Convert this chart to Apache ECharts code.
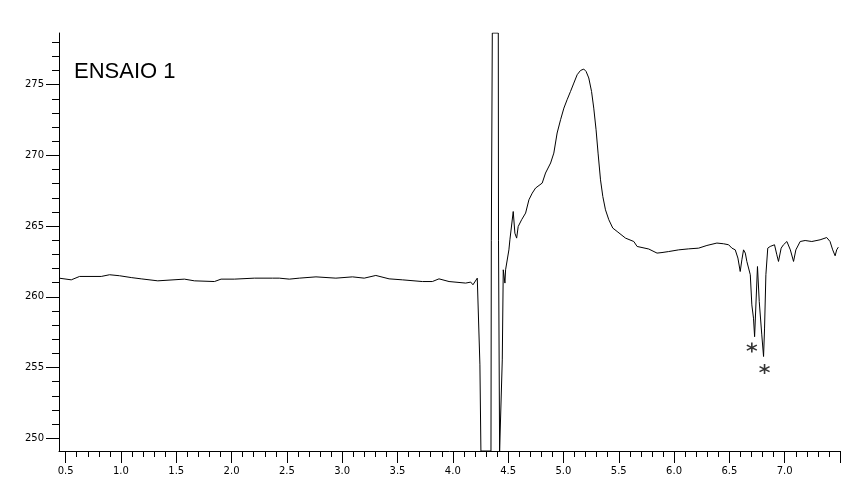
<!DOCTYPE html>
<html>
<head>
<meta charset="utf-8">
<title>ENSAIO 1</title>
<script src="https://cdn.jsdelivr.net/npm/echarts@6/dist/echarts.min.js"></script>
<style>
  html, body { margin: 0; padding: 0; background: #fff; }
  #chart { width: 857px; height: 495px; }
</style>
</head>
<body>
<div id="chart"></div>
<script>
// curve (x = time, y = signal)
const traceX = [
  0.44, 0.551, 0.626, 0.822, 0.897, 0.987, 1.093, 1.183, 1.333, 1.574,
  1.664, 1.845, 1.905, 2.025, 2.206, 2.371, 2.431, 2.522, 2.612, 2.763,
  2.943, 3.093, 3.199, 3.304, 3.424, 3.544, 3.725, 3.815, 3.875, 3.966,
  4.116, 4.162, 4.182, 4.221, 4.234, 4.245, 4.254, 4.345, 4.348, 4.357,
  4.411, 4.413, 4.423, 4.438, 4.447, 4.456, 4.471, 4.477, 4.507, 4.516,
  4.546, 4.561, 4.577, 4.591, 4.622, 4.658, 4.688, 4.718, 4.748, 4.808,
  4.838, 4.884, 4.913, 4.943, 4.974, 5.004, 5.033, 5.064, 5.094, 5.124,
  5.154, 5.184, 5.205, 5.229, 5.254, 5.274, 5.295, 5.313, 5.335, 5.356,
  5.380, 5.410, 5.446, 5.485, 5.561, 5.636, 5.666, 5.771, 5.846, 5.891,
  5.951, 6.042, 6.132, 6.222, 6.297, 6.387, 6.448, 6.493, 6.523, 6.553,
  6.577, 6.598, 6.613, 6.628, 6.644, 6.658, 6.689, 6.703, 6.718, 6.728,
  6.739, 6.754, 6.770, 6.793, 6.809, 6.818, 6.830, 6.847, 6.869, 6.908,
  6.929, 6.944, 6.968, 6.989, 7.020, 7.051, 7.080, 7.101, 7.140, 7.185,
  7.245, 7.320, 7.380, 7.410, 7.434, 7.456, 7.470, 7.485
];
const traceY = [
  261.32, 261.20, 261.44, 261.44, 261.56, 261.49, 261.36, 261.27, 261.13, 261.25,
  261.13, 261.08, 261.25, 261.25, 261.32, 261.32, 261.32, 261.25, 261.32, 261.41,
  261.32, 261.41, 261.32, 261.51, 261.27, 261.20, 261.08, 261.08, 261.27, 261.08,
  260.97, 261.04, 260.85, 261.32, 261.44, 255.19, 249.1, 249.1, 264.0, 278.65,
  278.65, 264.0, 249.1, 249.1, 255.54, 261.91, 260.97, 261.91, 263.32, 264.03,
  266.03, 264.5, 264.15, 264.97, 265.45, 265.92, 266.86, 267.33, 267.69, 268.04,
  268.75, 269.46, 270.16, 271.58, 272.52, 273.34, 273.93, 274.52, 275.11, 275.70,
  276.0, 276.1, 275.93, 275.47, 274.52, 273.34, 271.81, 270.16, 268.27, 267.09,
  266.15, 265.45, 264.86, 264.62, 264.15, 263.91, 263.56, 263.38, 263.09, 263.13,
  263.20, 263.32, 263.39, 263.44, 263.63, 263.80, 263.75, 263.68, 263.44, 263.32,
  262.74, 261.79, 262.62, 263.32, 263.09, 262.50, 261.56, 259.43, 258.49, 257.18,
  257.31, 262.14, 259.67, 257.31, 255.78, 257.79, 261.56, 263.44, 263.56, 263.68,
  262.97, 262.50, 263.44, 263.68, 263.91, 263.32, 262.50, 263.32, 263.91, 263.98,
  263.91, 264.03, 264.19, 263.91, 263.32, 262.90, 263.32, 263.51
];

// asterisk marks under the two dips
const starX = [6.703, 6.818];
const starY = [256.41, 254.89];

// axis ranges and ticks
const xMin = 0.44;
const xMax = 7.5;
const yMin = 249.1;
const yMax = 278.65;
const xLabelTicks = [0.5, 1.0, 1.5, 2.0, 2.5, 3.0, 3.5, 4.0, 4.5, 5.0, 5.5, 6.0, 6.5, 7.0];
const xMajorTicks = xLabelTicks.concat([7.5]);
const yLabelTicks = [250, 255, 260, 265, 270, 275];

const xMinorTicks = [];
for (let i = 5; i <= 75; i++) xMinorTicks.push(i / 10);
const yMinorTicks = [];
for (let v = 250; v <= 278; v++) yMinorTicks.push(v);

const labelFont = { color: '#000', fontFamily: 'DejaVu Sans', fontSize: 10 };
const black = { color: '#000', width: 1 };

const myChart = echarts.init(document.getElementById('chart'), null, { renderer: 'canvas' });

const option = {
  animation: false,
  backgroundColor: '#fff',
  grid: { left: 59, right: 17, top: 33, bottom: 44 },
  graphic: [{
    type: 'text',
    left: 74,
    top: 61,
    style: {
      text: 'ENSAIO 1',
      fill: '#000',
      font: '22px "Liberation Sans"'
    }
  }],
  xAxis: [
    {
      // minor ticks every 0.1
      type: 'value', min: xMin, max: xMax, position: 'bottom',
      axisLine: { show: true, lineStyle: black },
      axisTick: { show: true, length: 6, lineStyle: black, customValues: xMinorTicks },
      axisLabel: { show: false },
      splitLine: { show: false }
    },
    {
      // major ticks + labels every 0.5
      type: 'value', min: xMin, max: xMax, position: 'bottom', offset: 0,
      axisLine: { show: false },
      axisTick: { show: true, length: 12, lineStyle: black, customValues: xMajorTicks },
      axisLabel: Object.assign({
        margin: 15,
        customValues: xLabelTicks,
        formatter: v => v.toFixed(1)
      }, labelFont),
      splitLine: { show: false }
    }
  ],
  yAxis: [
    {
      type: 'value', min: yMin, max: yMax, position: 'left',
      axisLine: { show: true, lineStyle: black },
      axisTick: { show: true, length: 7, lineStyle: black, customValues: yMinorTicks },
      axisLabel: { show: false },
      splitLine: { show: false }
    },
    {
      type: 'value', min: yMin, max: yMax, position: 'left', offset: 0,
      axisLine: { show: false },
      axisTick: { show: true, length: 13, lineStyle: black, customValues: yLabelTicks },
      axisLabel: Object.assign({
        margin: 15,
        customValues: yLabelTicks
      }, labelFont),
      splitLine: { show: false }
    }
  ],
  series: [
    {
      type: 'line',
      xAxisIndex: 0,
      yAxisIndex: 0,
      data: traceX.map((x, i) => [x, traceY[i]]),
      showSymbol: false,
      lineStyle: { color: '#000', width: 1 },
      silent: true
    },
    {
      type: 'scatter',
      xAxisIndex: 0,
      yAxisIndex: 0,
      data: starX.map((x, i) => [x, starY[i]]),
      symbol: 'path://M5,0 L5,10 M0.7,2.5 L9.3,7.5 M0.7,7.5 L9.3,2.5',
      symbolSize: 10,
      itemStyle: { color: 'rgba(0,0,0,0)', borderColor: '#000', borderWidth: 1.6 },
      silent: true
    }
  ]
};

option && myChart.setOption(option);
</script>
</body>
</html>
